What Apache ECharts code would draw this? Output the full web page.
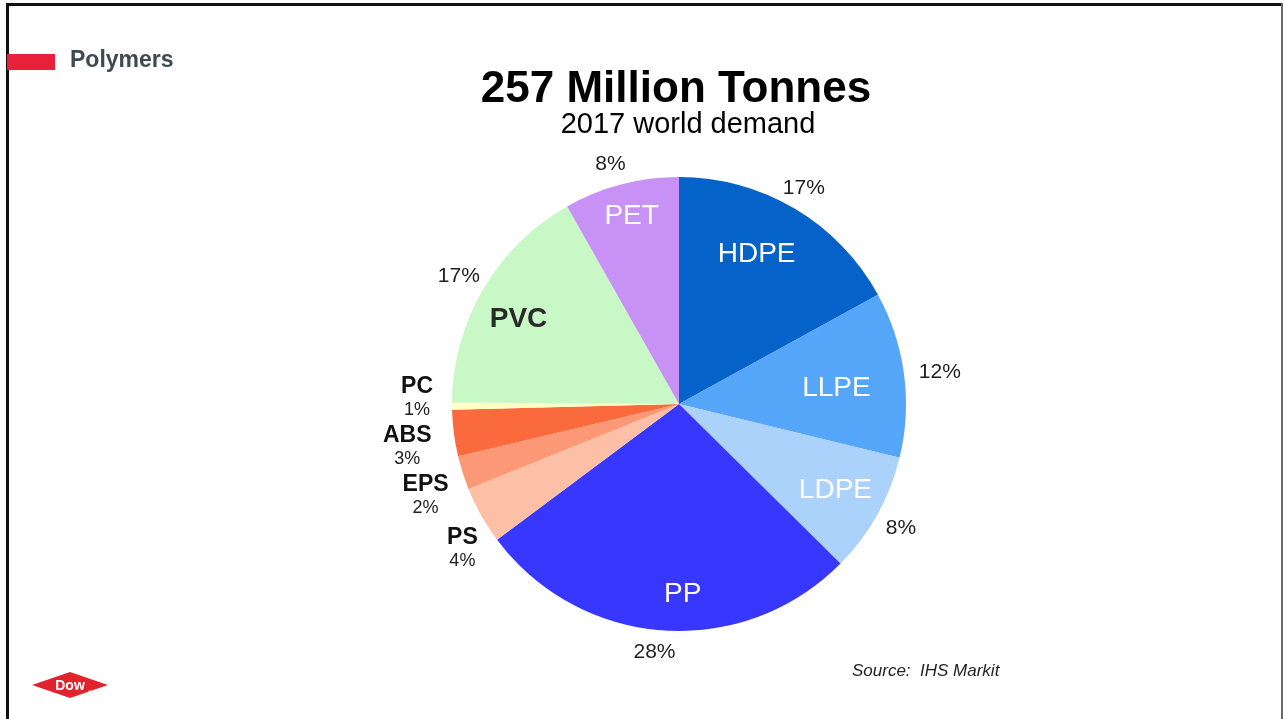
<!DOCTYPE html>
<html><head><meta charset="utf-8">
<script src="https://cdn.jsdelivr.net/npm/echarts@6/dist/echarts.min.js"></script>
<style>html,body{margin:0;padding:0;background:#fff}#c{width:1284px;height:719px}</style>
</head><body><div id="c"></div>
<script>
// ---- data ----
const names = ['HDPE', 'LLPE', 'LDPE', 'PP', 'PS', 'EPS', 'ABS', 'PC', 'PVC', 'PET'];
const shares = [17.0, 11.8, 8.6, 27.4, 4.1, 2.4, 3.3, 0.5, 16.7, 8.2];
const pctLabels = ['17%', '12%', '8%', '28%', '4%', '2%', '3%', '1%', '17%', '8%'];
const smallSlices = ['PS', 'EPS', 'ABS', 'PC'];
const titleText = '257 Million Tonnes';
const subtitleText = '2017 world demand';
const sectionText = 'Polymers';
const sourceText = 'Source:  IHS Markit';

// ---- style ----
const colors = ['#0562C8', '#55A5F8', '#AAD2FA', '#3737FF', '#FDBFA6', '#FC9875', '#FA6A3C', '#FFFFC6', '#C8F8C6', '#C891F5'];
const FONT = '"Liberation Sans", Arial, sans-serif';
const nameOffsets = {HDPE: [-13, 3], LLPE: [-19, 8], LDPE: [1, 0], PP: [16, 13], PVC: [-7, 5], PET: [-2, -16]};
const pctOffsets = {HDPE: [-4, 2], LLPE: [10, 1], LDPE: [1, 1], PP: [-7, -4], PVC: [-2, 0], PET: [-4, 5]};
const smallOffsets = {PS: [17, 13], EPS: [2, 10], ABS: [-6, 8], PC: [6, -9]};
const CENTER = [679, 404];
const R = 227;
const clear = 'rgba(0,0,0,0)';

const isSmall = n => smallSlices.indexOf(n) >= 0;

const mainData = names.map((n, i) => ({name: n, value: shares[i], itemStyle: {color: colors[i]}}));

const nameData = names.map((n, i) => ({
  name: n, value: shares[i],
  label: isSmall(n) ? {show: false} : {
    show: true, formatter: n,
    color: n === 'PVC' ? '#2a2a2a' : '#ffffff',
    fontWeight: n === 'PVC' ? 'bold' : 'normal',
    offset: nameOffsets[n]
  }
}));

const pctData = names.map((n, i) => ({
  name: n, value: shares[i],
  label: isSmall(n) ? {show: false} : {show: true, formatter: pctLabels[i], offset: pctOffsets[n]}
}));

const smallData = names.map((n, i) => ({
  name: n, value: shares[i],
  label: isSmall(n) ? {show: true, formatter: '{n|' + n + '}\n{p|' + pctLabels[i] + '}', offset: smallOffsets[n]} : {show: false}
}));

const ringBase = {
  type: 'pie', center: CENTER, startAngle: 90, clockwise: true, silent: true,
  avoidLabelOverlap: false, labelLine: {show: false},
  itemStyle: {color: clear, borderWidth: 0},
  emphasis: {disabled: true}
};

const chart = echarts.init(document.getElementById('c'), null, {renderer: 'canvas'});
chart.setOption({
  backgroundColor: '#ffffff',
  animation: false,
  series: [
    {
      type: 'pie', center: CENTER, radius: [0, R], startAngle: 90, clockwise: true, silent: true,
      avoidLabelOverlap: false, label: {show: false}, labelLine: {show: false},
      itemStyle: {borderWidth: 0}, emphasis: {disabled: true},
      data: mainData
    },
    Object.assign({}, ringBase, {
      radius: [150, 200],
      label: {position: 'inside', fontFamily: FONT, fontSize: 28},
      data: nameData
    }),
    Object.assign({}, ringBase, {
      radius: [236, 264],
      label: {position: 'inside', fontFamily: FONT, fontSize: 21, color: '#1e1e1e'},
      data: pctData
    }),
    Object.assign({}, ringBase, {
      radius: [250, 280],
      label: {
        position: 'inside', fontFamily: FONT, align: 'center',
        rich: {
          n: {fontFamily: FONT, fontSize: 23, fontWeight: 'bold', color: '#111', lineHeight: 26, align: 'center'},
          p: {fontFamily: FONT, fontSize: 18, color: '#222', lineHeight: 22, align: 'center'}
        }
      },
      data: smallData
    })
  ],
  graphic: [
    // frame lines
    {type: 'rect', silent: true, shape: {x: 6, y: 3, width: 1277, height: 3}, style: {fill: '#111'}},
    {type: 'rect', silent: true, shape: {x: 6, y: 3, width: 3, height: 716}, style: {fill: '#111'}},
    {type: 'rect', silent: true, shape: {x: 1281, y: 3, width: 2, height: 716}, style: {fill: '#6a6a6a'}},
    // section marker
    {type: 'rect', silent: true, shape: {x: 7, y: 54, width: 48, height: 16}, style: {fill: '#E8213A'}},
    {type: 'text', silent: true, style: {x: 70, y: 61, text: sectionText, font: 'bold 23px ' + FONT, fill: '#3D4A50', textVerticalAlign: 'middle'}},
    // titles
    {type: 'text', silent: true, style: {x: 676, y: 90, text: titleText, font: 'bold 44px ' + FONT, fill: '#000', textAlign: 'center', textVerticalAlign: 'middle'}},
    {type: 'text', silent: true, style: {x: 688, y: 125, text: subtitleText, font: '29px ' + FONT, fill: '#000', textAlign: 'center', textVerticalAlign: 'middle'}},
    // source
    {type: 'text', silent: true, style: {x: 852, y: 671, text: sourceText, font: 'italic 17px ' + FONT, fill: '#222', textVerticalAlign: 'middle'}},
    // logo
    {type: 'polygon', silent: true, shape: {points: [[32, 685], [70, 672], [108, 685], [70, 698]]}, style: {fill: '#E1232E'}},
    {type: 'text', silent: true, style: {x: 70, y: 686, text: 'Dow', font: 'bold 14px ' + FONT, fill: '#fff', textAlign: 'center', textVerticalAlign: 'middle'}},
    {type: 'text', silent: true, style: {x: 90, y: 693, text: '®', font: '6px ' + FONT, fill: '#fff', textAlign: 'center', textVerticalAlign: 'middle'}}
  ]
});
</script>
</body></html>
